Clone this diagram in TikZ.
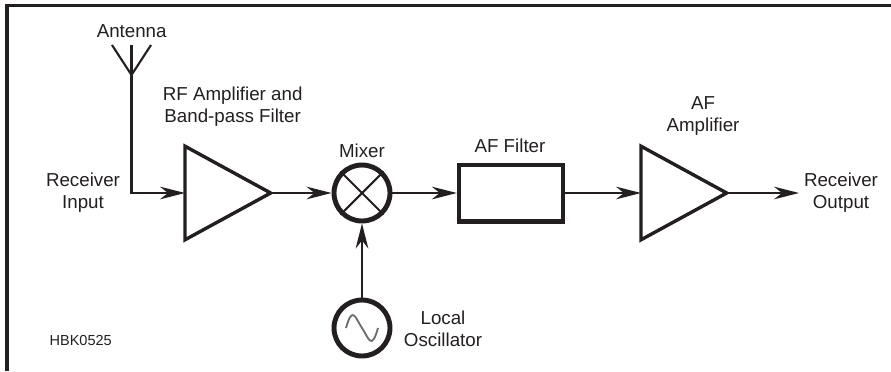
\documentclass[tikz,border=0pt]{standalone}
\usepackage{fontspec}
\setmainfont{Liberation Sans}
\usetikzlibrary{arrows.meta,shapes.geometric}
\definecolor{ink}{HTML}{231F20}
\definecolor{wave}{HTML}{6D6E71}
\tikzset{amp/.style={draw=ink,isosceles triangle,isosceles triangle apex angle=57.3,minimum height=2.57cm,inner sep=0pt,outer sep=0pt,line width=2.9pt,anchor=lower side},
circ/.style={draw=ink,circle,minimum size=1.68cm,inner sep=0pt,outer sep=2.1pt,line width=4.2pt},
arr/.style={-{Stealth[length=7.5mm,width=3.8mm,inset=2.4mm]},line width=1.9pt,draw=ink},
wire/.style={line width=1.8pt,draw=ink},
lab/.style={align=center,font=\fontsize{16}{19}\selectfont,text=ink,inner sep=0pt}}
\begin{document}
\begin{tikzpicture}
\useasboundingbox (0,0) rectangle (26.73,-11.13);
\coordinate (nw) at (.21,-.17);
\coordinate (ne) at (26.73,-.17);
\coordinate (sw) at (.21,-11.13);
\draw[ink,line width=2.6pt] (sw)--(nw)--(ne);
\node[amp] (rf) at (5.55,-5.79) {};
\node[circ] (mixer) at (10.86,-5.79) {};
\node[draw=ink,line width=3.7pt,minimum width=3.12cm,minimum height=1.7cm,inner sep=0pt,outer sep=1.85pt] (filter) at (15.33,-5.79) {};
\node[amp] (af) at (19.23,-5.79) {};
\node[circ] (osc) at (10.86,-9.84) {};
\coordinate (tip) at (3.945,-2.25);
\coordinate (top) at (3.945,-1.35);
\coordinate (armL) at (3.36,-1.35);
\coordinate (armR) at (4.53,-1.35);
\coordinate (out) at (23.97,-5.79);
\node[lab] (antenna) at (3.95,-.93) {Antenna};
\node[lab] (input) at (2.49,-5.79) {Receiver\\Input};
\node[lab] (rflab) at (6.98,-3.21) {RF Amplifier and\\Band-pass Filter};
\node[lab] (mixlab) at (10.86,-4.53) {Mixer};
\node[lab] (fillab) at (15.3,-4.38) {AF Filter};
\node[lab] (aflab) at (21.09,-3.48) {AF\\Amplifier};
\node[lab] (output) at (25.23,-5.79) {Receiver\\Output};
\node[lab] (osclab) at (13.29,-9.87) {Local\\Oscillator};
\node[lab,font=\fontsize{12.4}{15}\selectfont] (hbk) at (2.42,-10.2) {HBK0525};
\draw[wire] (armL)--(tip)--(armR);
\draw[wire] (top)--(tip);
\draw[arr] (tip)|-(rf.lower side);
\draw[arr] (rf.apex)--(mixer);
\draw[arr] (mixer)--(filter);
\draw[arr] (filter)--(af.lower side);
\draw[arr] (af.apex)--(out);
\draw[arr] (osc)--(mixer);
\draw[wire] (mixer.45)--(mixer.225);
\draw[wire] (mixer.135)--(mixer.315);
\draw[wave,line width=1.6pt] ([xshift=-4.8mm]osc.center) .. controls +(.2,.7) and +(-.2,.3) .. (osc.center) .. controls +(.2,-.3) and +(-.2,-.7) .. ([xshift=4.8mm]osc.center);
\end{tikzpicture}
\end{document}
